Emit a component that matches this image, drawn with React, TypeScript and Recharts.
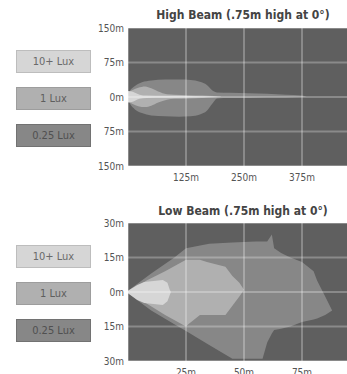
import { AreaChart, Area, XAxis, YAxis, CartesianGrid, ReferenceLine } from 'recharts'

// legend
const LEVELS = ['10+ Lux', '1 Lux', '0.25 Lux']

// high beam (metres)
const HB_X_TICKS = [125, 250, 375]
const HB_Y_TICKS = [-150, -75, 0, 75, 150]
const hbLowX = [0, 5, 15, 30, 50, 80, 110, 135, 155, 170, 182, 192, 220, 260, 300, 340, 375, 385]
const hbLowTop = [6, 15, 24, 32, 36, 38, 38, 37, 33, 26, 14, 10, 9, 8, 7, 5, 3, 1]
const hbLowBottom = [-6, -16, -27, -35, -40, -42, -43, -42, -38, -30, -14, -3, -2, -2, -1, -1, 0, 1]
const hbMidX = [0, 10, 22, 37, 50, 65, 84, 100, 130, 160, 185, 200]
const hbMidTop = [10, 15, 20, 23, 19, 12, 6, 5, 4, 3, 2, 1]
const hbMidBottom = [-10, -15, -20, -22, -19, -12, -6, -4, -3, -2, -1, 0]
const hbHighX = [0, 8, 15, 25, 40, 80, 130, 175, 195]
const hbHighTop = [13, 12, 9, 5, 3, 2.5, 2, 1, 0.5]
const hbHighBottom = [-12, -11, -8, -4, -2, -1.5, -1, 0, 0.5]

// low beam (metres)
const LB_X_TICKS = [25, 50, 75]
const LB_Y_TICKS = [-30, -15, 0, 15, 30]
const lbLowX = [0, 10, 20, 25, 35, 45, 55, 58, 60, 62, 63, 66, 70, 75, 80, 81.5, 85, 88]
const lbLowTop = [0.5, 8, 15, 19, 21, 21.5, 22, 22, 22, 25, 19, 17, 15, 13, 9, 5, -2, -8]
const lbLowBottom = [-0.5, -8, -14, -17, -23, -29, -29, -29, -22, -18, -16.5, -16, -15, -13, -12, -11.5, -10, -8]
const lbMidX = [0, 8, 16, 25, 26, 31, 34, 42, 45, 48, 50]
const lbMidTop = [0, 5, 9, 14, 14, 14, 13, 11, 7, 4, 1]
const lbMidBottom = [0, -5, -10, -15, -14, -10, -10, -10, -6, -2, 1]
const lbHighX = [0, 4, 7, 15, 17, 18, 18.5]
const lbHighTop = [0.5, 3, 4.3, 5.2, 4, 1, 0]
const lbHighBottom = [-0.5, -3.5, -4.8, -5.6, -4, -1.3, 0]

const FILLS = ['#d6d6d6', '#b0b0b0', '#878787']
const BORDERS = ['#bdbdbd', '#9d9d9d', '#727272']
const TEXTS = ['#6a6a6a', '#5e5e5e', '#505050']
const FONT = '"DejaVu Sans Condensed", "Liberation Sans Narrow", sans-serif'

const band = (xs: number[], top: number[], bottom: number[]) =>
  xs.map((x, i) => ({ x, range: [bottom[i], top[i]] }))

type BeamProps = {
  title: string
  top: number
  plotTop: number
  titleTop: number
  legendTop: number
  xMax: number
  xTicks: number[]
  yTicks: number[]
  bands: { x: number; range: number[] }[][]
  curve: 'monotone' | 'linear'
}

function BeamChart({ title, top, plotTop, titleTop, legendTop, xMax, xTicks, yTicks, bands, curve }: BeamProps) {
  const yMax = yTicks[yTicks.length - 1]
  const gridStyle = { stroke: '#ffffff', strokeOpacity: 0.27, strokeWidth: 2 }
  const plotHeight = 138
  const height = 200
  return (
    <div style={{ position: 'absolute', left: 0, top, width: 347, height }}>
      <div
        style={{
          position: 'absolute',
          left: 128,
          width: 230,
          top: titleTop,
          textAlign: 'center',
          fontFamily: FONT,
          fontWeight: 'bold',
          fontSize: 12,
          color: '#444',
        }}
      >
        {title}
      </div>
      {LEVELS.map((l, i) => (
        <div
          key={l}
          style={{
            position: 'absolute',
            left: 16,
            top: legendTop + i * 37,
            width: 73,
            height: 21,
            background: FILLS[i],
            border: `1px solid ${BORDERS[i]}`,
            color: TEXTS[i],
            fontFamily: FONT,
            fontSize: 11,
            lineHeight: '21px',
            textAlign: 'center',
          }}
        >
          {l}
        </div>
      ))}
      <AreaChart
        width={347}
        height={height}
        margin={{ top: plotTop, right: 0, left: 0, bottom: 0 }}
        style={{ position: 'absolute', left: 0, top: 0 }}
      >
        <CartesianGrid fill="#5f5f5f" stroke="none" />
        <XAxis
          dataKey="x"
          type="number"
          domain={[0, xMax]}
          allowDataOverflow
          ticks={xTicks}
          tickFormatter={(v: number) => `${v}m`}
          axisLine={false}
          tickLine={false}
          tickSize={0}
          tickMargin={8}
          height={height - plotTop - plotHeight}
          tick={{ fontSize: 10, fill: '#555', fontFamily: FONT }}
        />
        <YAxis
          type="number"
          domain={[yTicks[0], yMax]}
          allowDataOverflow
          ticks={yTicks}
          tickFormatter={(v: number) => `${Math.abs(v)}m`}
          axisLine={false}
          tickLine={false}
          tickSize={0}
          tickMargin={4}
          width={128}
          interval={0}
          tick={{ fontSize: 10, fill: '#555', fontFamily: FONT }}
        />
        {bands.map((d, i) => (
          <Area
            key={i}
            data={d}
            dataKey="range"
            type={curve}
            stroke="none"
            fill={FILLS[2 - i]}
            fillOpacity={1}
            isAnimationActive={false}
          />
        ))}
        {xTicks.map((t) => (
          <ReferenceLine key={`x${t}`} x={t} {...gridStyle} />
        ))}
        {yTicks.map((t) => (
          <ReferenceLine key={`y${t}`} y={t} {...gridStyle} />
        ))}
        <ReferenceLine x={0} {...gridStyle} />
      </AreaChart>
    </div>
  )
}

export default function App() {
  return (
    <div
      style={{
        position: 'fixed',
        left: 0,
        top: 0,
        width: 347,
        height: 374,
        overflow: 'hidden',
        background: '#fff',
      }}
    >
      <BeamChart
        title="High Beam (.75m high at 0°)"
        top={0}
        plotTop={28}
        titleTop={8}
        legendTop={50}
        xMax={472}
        xTicks={HB_X_TICKS}
        yTicks={HB_Y_TICKS}
        curve="monotone"
        bands={[
          band(hbLowX, hbLowTop, hbLowBottom),
          band(hbMidX, hbMidTop, hbMidBottom),
          band(hbHighX, hbHighTop, hbHighBottom),
        ]}
      />
      <BeamChart
        title="Low Beam (.75m high at 0°)"
        top={190}
        plotTop={33}
        titleTop={14}
        legendTop={55}
        xMax={94.4}
        xTicks={LB_X_TICKS}
        yTicks={LB_Y_TICKS}
        curve="linear"
        bands={[
          band(lbLowX, lbLowTop, lbLowBottom),
          band(lbMidX, lbMidTop, lbMidBottom),
          band(lbHighX, lbHighTop, lbHighBottom),
        ]}
      />
    </div>
  )
}
